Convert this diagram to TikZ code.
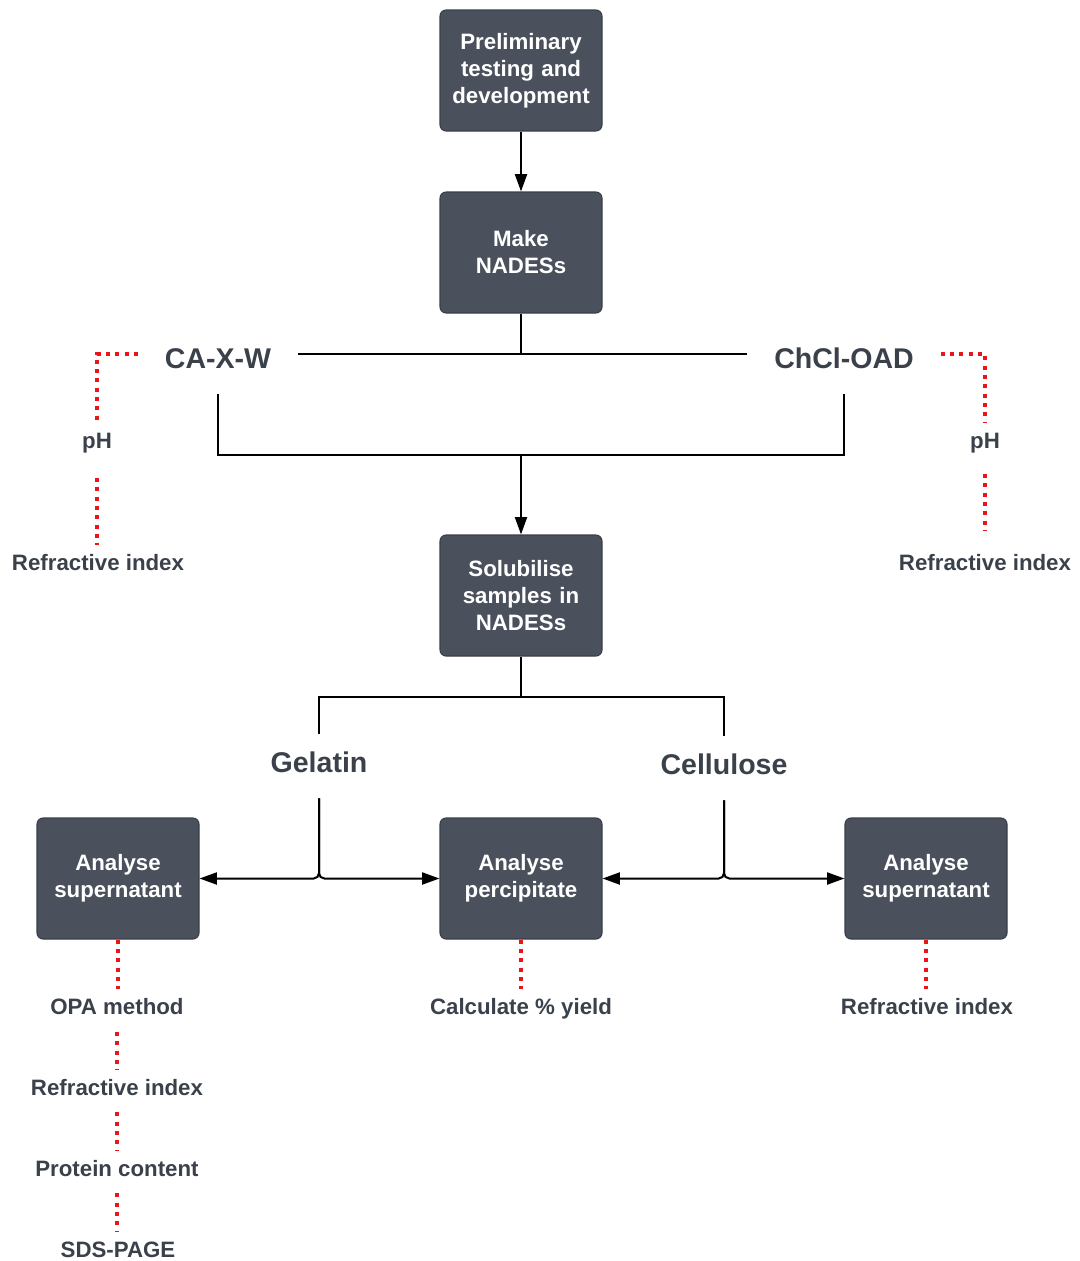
\documentclass[tikz,border=0pt]{standalone}
\usepackage{fontspec}
\setmainfont{Liberation Sans}
\usetikzlibrary{arrows.meta,calc}
\definecolor{boxfill}{HTML}{4B515C}
\definecolor{boxline}{HTML}{3A3F47}
\definecolor{txt}{HTML}{3A414B}
\definecolor{reddot}{HTML}{E8161B}
\begin{document}
\begin{tikzpicture}[x=0.75pt,y=-0.75pt,
 procbox/.style={draw=boxline, line width=0.8pt, fill=boxfill, rounded corners=4.5pt,
   minimum width=121.5pt, minimum height=90.75pt, text width=115pt, align=center,
   text=white, font=\fontsize{16.7}{20.25}\selectfont\bfseries, inner sep=0pt},
 toplbl/.style={text=txt, font=\fontsize{21.4}{25}\selectfont\bfseries, inner xsep=20pt,
   inner ysep=0pt, text height=21.3pt, text depth=0pt, minimum height=60pt},
 midlbl/.style={text=txt, font=\fontsize{21.4}{25}\selectfont\bfseries, inner xsep=4pt,
   inner ysep=0pt, text height=15.4pt, text depth=6.1pt, minimum height=48pt},
 smlbl/.style={text=txt, font=\fontsize{16.7}{20}\selectfont\bfseries, inner xsep=2pt,
   inner ysep=0pt, text height=11.8pt, text depth=0pt, minimum height=27pt},
 link/.style={line width=1.5pt, black},
 arr/.style={link, -{Triangle[length=13pt,width=9pt]}},
 redl/.style={draw=reddot, line width=2.6pt, dash pattern=on 3pt off 4pt},
]
\useasboundingbox (0,0) rectangle (1079,1261);

% process boxes
\node[procbox] (prelim) at (521,70.5) {Preliminary testing and development};
\node[procbox] (make) at (521,252.5) {Make\\NADESs};
\node[procbox] (solub) at (521,595.5) {Solubilise samples in NADESs};
\node[procbox] (anaL) at (118,878.5) {Analyse supernatant};
\node[procbox] (anaM) at (521,878.5) {Analyse percipitate};
\node[procbox] (anaR) at (926,878.5) {Analyse supernatant};

% labels
\node[toplbl] (caxw) at (218,354) {CA-X-W};
\node[toplbl] (chcl) at (844,354) {ChCl-OAD};
\node[midlbl] (gel) at (319,766) {Gelatin};
\node[midlbl] (cel) at (724,768) {Cellulose};

\node[smlbl] (phL) at (97,441) {pH};
\node[smlbl] (riL) at (98,563) {Refractive index};
\node[smlbl] (phR) at (985,441) {pH};
\node[smlbl] (riR) at (985,563) {Refractive index};

\node[smlbl] (opa) at (117,1007) {OPA method};
\node[smlbl] (riB) at (117,1088) {Refractive index};
\node[smlbl] (prot) at (117,1169) {Protein content};
\node[smlbl] (sds) at (118,1250) {SDS-PAGE};
\node[smlbl] (yield) at (521,1007) {Calculate \% yield};
\node[smlbl] (riR2) at (927,1007) {Refractive index};

\coordinate (jA) at (521,455);
\coordinate (jB) at (521,697);

% black connectors
\draw[arr] (prelim.south) -- (make.north);
\draw[link] (make.south) -- (make.south |- caxw.east);
\draw[link] (caxw.east) -- (chcl.west);
\draw[link] (caxw.south) |- (jA) -| (chcl.south);
\draw[arr] (jA) -- (solub.north);
\draw[link] (solub.south) -- (jB);
\draw[link] (gel.north) |- (jB) -| (cel.north);
\draw[arr, rounded corners=4pt] (gel.south) |- (anaL.east);
\draw[arr, rounded corners=4pt] (gel.south) |- (anaM.west);
\draw[arr, rounded corners=4pt] (cel.south) |- (anaM.east);
\draw[arr, rounded corners=4pt] (cel.south) |- (anaR.west);

% red dotted connectors
\draw[redl] (caxw.west) -| (phL.north);
\draw[redl, shorten <=14pt] (phL.south) -- (phL.south |- riL.north);
\draw[redl] (chcl.east) -| (phR.north);
\draw[redl, shorten <=11pt, shorten >=11pt] (phR.south) -- (phR.south |- riR.north);

\draw[redl] (anaL.south) -- (anaL.south |- opa.north);
\draw[redl, shorten <=5pt] (opa.south) -- (riB.north);
\draw[redl, shorten <=4.5pt] (riB.south) -- (prot.north);
\draw[redl, shorten <=4.5pt] (prot.south) -- (prot.south |- sds.north);
\draw[redl] (anaM.south) -- (yield.north);
\draw[redl] (anaR.south) -- (anaR.south |- riR2.north);
\end{tikzpicture}
\end{document}
